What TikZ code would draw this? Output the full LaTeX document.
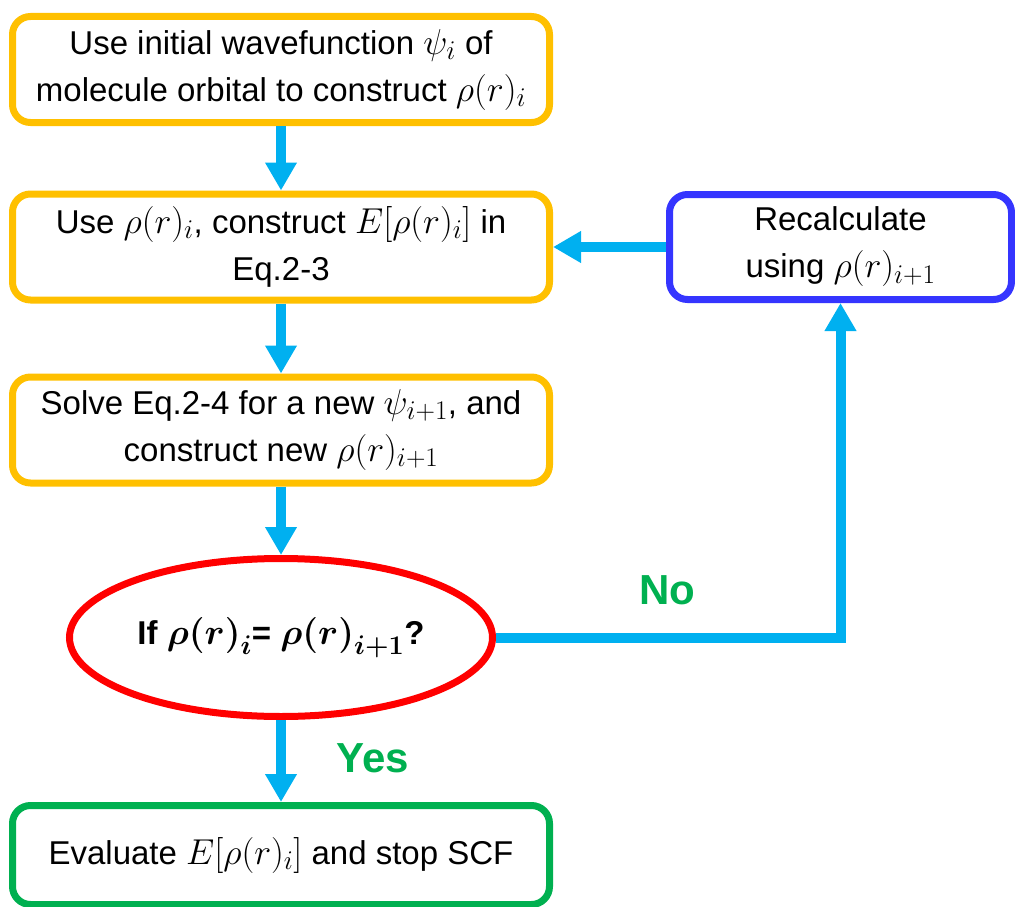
\RequirePackage{fix-cm}
\documentclass[tikz,border=0pt]{standalone}
\usepackage{amsmath}
\usepackage{bm}
\usepackage{fontspec}
\setmainfont{Liberation Sans}
\usetikzlibrary{arrows.meta,shapes.geometric}
\DeclareMathSizes{33}{36}{27}{21}

\definecolor{boxorange}{HTML}{FFC000}
\definecolor{flowblue}{HTML}{00B0F0}
\definecolor{recalcblue}{HTML}{3535FF}
\definecolor{checkred}{HTML}{FF0000}
\definecolor{stopgreen}{HTML}{00B050}

\begin{document}
\begin{tikzpicture}[x=1pt, y=-1pt, font=\fontsize{33}{47}\selectfont,
    box/.style={draw, line width=7pt, rounded corners=18pt, minimum width=537pt,
        minimum height=106pt, align=center, inner sep=0pt},
    flow/.style={draw=flowblue, line width=10pt, -{Triangle[width=30pt,length=28pt]}},
    answer/.style={text=stopgreen, font=\fontsize{42}{50}\selectfont\bfseries}]
        \useasboundingbox (0,0) rectangle (1015,907);
        \node[box, draw=boxorange] (init) at (281,69.5) {Use initial wavefunction $\psi_i$ of\\molecule orbital to construct $\rho(r)_i$};
        \node[box, draw=boxorange] (energy) at (281,247) {Use $\rho(r)_i$, construct $E[\rho(r)_i]$ in\\Eq.2-3};
        \node[box, draw=boxorange] (solve) at (281,430) {Solve Eq.2-4 for a new $\psi_{i+1}$, and\\construct new $\rho(r)_{i+1}$};
        \node[draw=checkred, line width=7pt, ellipse, minimum width=423pt, minimum height=158pt, inner sep=0pt] (check) at (281,637.5) {\bfseries If $\bm{\rho(r)_i}$= $\bm{\rho(r)_{i+1}}$?};
        \node[box, draw=stopgreen, minimum height=99pt] (stop) at (281,855) {Evaluate $E[\rho(r)_i]$ and stop SCF};
        \node[box, draw=recalcblue, minimum width=342pt, minimum height=105pt] (recalc) at (840.5,247) {Recalculate\\using $\rho(r)_{i+1}$};
        \foreach \a/\b in {init/energy, energy/solve, solve/check, check/stop} \draw[flow] (\a.south) -- (\b.north);
        \draw[flow] (recalc.west) -- (energy.east);
        \draw[flow] (check.east) -| (recalc.south);
        \node[answer] (no) at (667,590) {No};
        \node[answer] (yes) at (373,758) {Yes};
    \end{tikzpicture}
\end{document}
